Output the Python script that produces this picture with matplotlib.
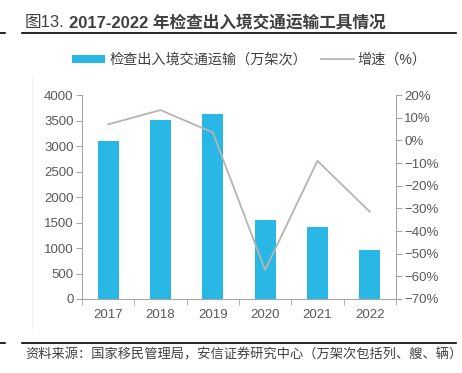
import matplotlib.pyplot as plt
from matplotlib.lines import Line2D
from matplotlib.patches import Patch
from matplotlib.ticker import FixedLocator, FuncFormatter

plt.rcParams['font.family'] = ['Liberation Sans', 'Noto Sans CJK SC']

years = ["2017", "2018", "2019", "2020", "2021", "2022"]
vehicles = [3100, 3510, 3630, 1550, 1410, 955]   # 万架次
growth = [7.1, 13.4, 3.5, -57.2, -9.0, -31.5]     # %

BLUE = "#29b7e6"
GRAY_LINE = "#b8b2b0"
TEXT = "#595959"
AXIS = "#a6a6a6"

fig = plt.figure(figsize=(4.62, 3.73), dpi=100)
ax = fig.add_axes([0.1775, 0.1984, 0.857 - 0.1775, 0.745 - 0.1984])
ax2 = ax.twinx()

x = list(range(len(years)))
ax.bar(x, vehicles, width=0.4, color=BLUE, zorder=2)
ax2.plot(x, growth, color=GRAY_LINE, lw=1.3, zorder=3)

ax.set_xlim(-0.5, len(years) - 0.5)
ax.set_ylim(0, 4000)
ax.set_yticks(range(0, 4001, 500))
ax2.set_ylim(-70, 20)
ax2.set_yticks(range(-70, 21, 10))
ax2.yaxis.set_major_formatter(FuncFormatter(lambda v, p: f"{int(v)}%".replace("-", "\u2212")))

ax.set_xticks(x)
ax.set_xticklabels(years)
ax.xaxis.set_minor_locator(FixedLocator([i - 0.5 for i in range(len(years) + 1)]))
ax.tick_params(axis="x", which="major", length=0, pad=7, labelsize=9.5, colors=TEXT)
ax.tick_params(axis="x", which="minor", length=4, color=AXIS)
ax.tick_params(axis="y", length=4, color=AXIS, labelsize=9.5, labelcolor=TEXT, pad=2)
ax2.tick_params(axis="y", length=4, color=AXIS, labelsize=9.5, labelcolor=TEXT, pad=2)

for a in (ax, ax2):
    a.spines["top"].set_visible(False)
    for s in ("left", "right", "bottom"):
        a.spines[s].set_color(AXIS)
ax.spines["right"].set_visible(False)
ax2.spines["left"].set_visible(False)
ax2.spines["bottom"].set_visible(False)

handles = [Patch(facecolor=BLUE, edgecolor="none"),
           Line2D([], [], color=GRAY_LINE, lw=1.3)]
labels = ["检查出入境交通运输（万架次）", "增速（%）"]
fig.legend(handles, labels, loc="center", bbox_to_anchor=(0.54, 0.84), ncol=2,
           frameon=False, fontsize=10.2, handlelength=2.3, handleheight=0.5,
           columnspacing=1.0, handletextpad=0.3, labelcolor="#404040")

# title: "图13." normal weight, rest bold
t1 = fig.text(0.054, 0.94, "图13.", fontsize=12, color="#404040", va="center")
fig.canvas.draw()
bb = t1.get_window_extent()
x2 = (bb.x1 + 4) / fig.bbox.width
fig.text(x2, 0.94, "2017-2022 年检查出入境交通运输工具情况",
         fontsize=12, fontweight="bold", color="#404040", va="center")

# rules
fig.add_artist(Line2D([0.048, 0.987], [0.912, 0.912], color="black", lw=1.2))
fig.add_artist(Line2D([0.0, 0.01], [0.912, 0.912], color="black", lw=1.2))
fig.add_artist(Line2D([0.069, 0.069], [0.12, 0.79], color="#f0f0f0", lw=0.8))
fig.add_artist(Line2D([0.048, 0.987], [0.08, 0.08], color="black", lw=1.2))
fig.add_artist(Line2D([0.0, 0.01], [0.08, 0.08], color="black", lw=1.2))
fig.text(0.054, 0.048, "资料来源：国家移民管理局，安信证券研究中心（万架次包括列、艘、辆）",
         fontsize=9.5, color="#404040", va="center", style="italic")

fig.savefig("out.png", dpi=100)
